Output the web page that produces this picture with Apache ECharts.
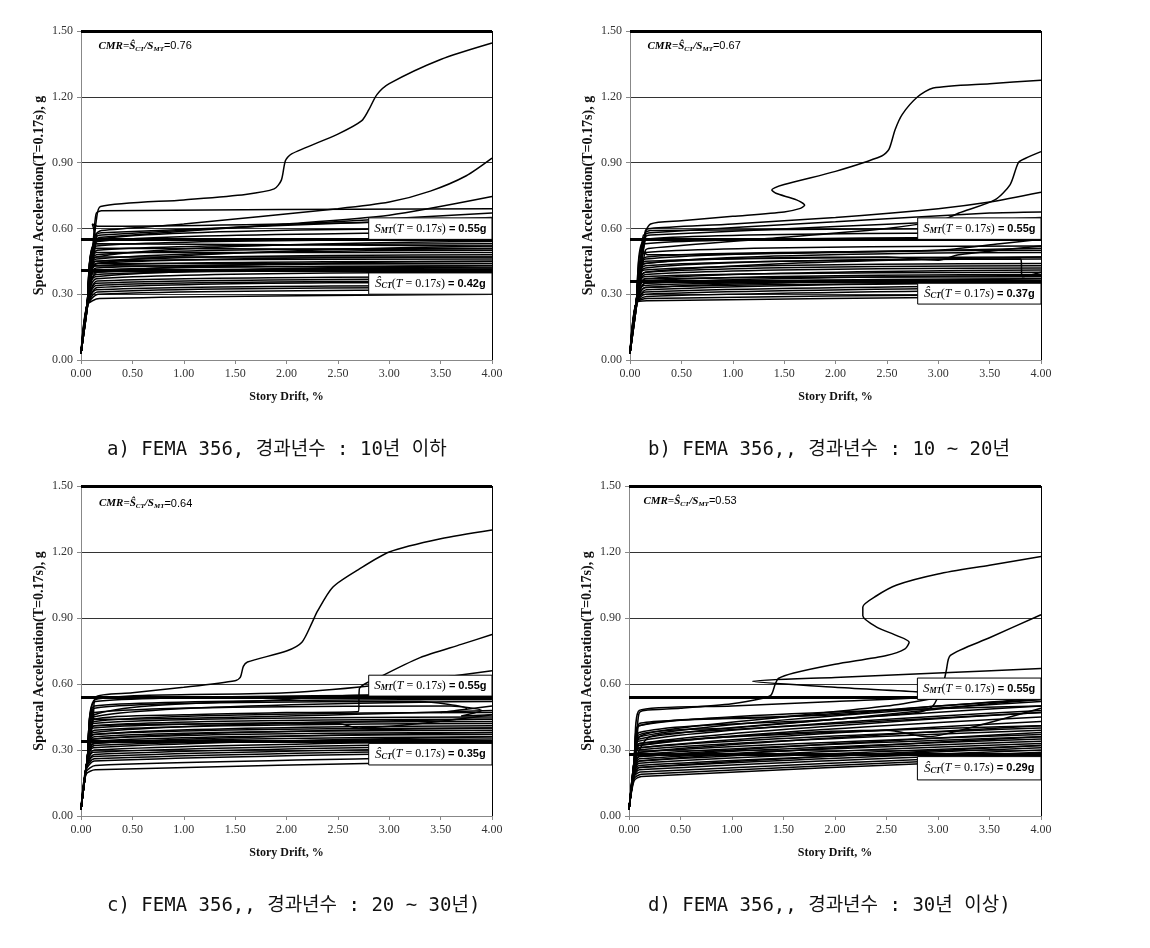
<!DOCTYPE html>
<html><head><meta charset="utf-8">
<script src="https://cdn.jsdelivr.net/npm/echarts@6/dist/echarts.min.js"></script>
<style>html,body{margin:0;padding:0;background:#fff}#c{width:1150px;height:948px}</style>
</head><body><div id="c"></div>
<script>
// ---- data ----
const yTicks = [0, 0.3, 0.6, 0.9, 1.2, 1.5];
const xTicks = [0, 0.5, 1, 1.5, 2, 2.5, 3, 3.5, 4];
const captions = [
  'a) FEMA 356, 경과년수 : 10년 이하',
  'b) FEMA 356,, 경과년수 : 10 ~ 20년',
  'c) FEMA 356,, 경과년수 : 20 ~ 30년)',
  'd) FEMA 356,, 경과년수 : 30년 이상)'
];
const cmrValues = ['0.76', '0.67', '0.64', '0.53'];
const smtValues = ['0.55g', '0.55g', '0.55g', '0.55g'];
const sctValues = ['0.42g', '0.37g', '0.35g', '0.29g'];
const smtLines = [0.545, 0.545, 0.54, 0.54];
const sctLines = [0.405, 0.36, 0.338, 0.277];

// each curve: flat list of drift(%), Sa(g) pairs
const curvesA = [
[0,0.03,0.07,0.27,0.12,0.5,0.15,0.64,0.19,0.70,1.0,0.73,1.6,0.755,1.88,0.78,1.95,0.82,1.99,0.91,2.05,0.94,2.5,1.03,2.73,1.09,2.8,1.14,2.88,1.21,3.0,1.26,3.5,1.37,4,1.445],
[0,0.03,0.07,0.27,0.14,0.57,0.2,0.59,1.0,0.62,2.5,0.69,3.0,0.72,3.4,0.77,3.75,0.84,4,0.92],
[0,0.03,0.07,0.27,0.13,0.6,0.15,0.67,0.2,0.68,4,0.69],
[0,0.03,0.07,0.27,0.15,0.55,0.2,0.56,2.0,0.62,3.0,0.66,4,0.745],
[0,0.03,0.07,0.27,0.15,0.56,0.2,0.57,4,0.67],
[0,0.03,0.07,0.27,0.15,0.57,0.2,0.58,4,0.65],
[0,0.03,0.06,0.26,0.16,0.55,4,0.60],
[0,0.03,0.06,0.26,0.16,0.54,4,0.58],
[0,0.03,0.06,0.26,0.15,0.53,4,0.52],
[0,0.03,0.06,0.26,0.15,0.52,4,0.55],
[0,0.03,0.06,0.26,0.14,0.51,4,0.50],
[0,0.03,0.06,0.26,0.16,0.50,4,0.53],
[0,0.03,0.06,0.25,0.15,0.49,4,0.49],
[0,0.03,0.06,0.25,0.15,0.48,4,0.51],
[0,0.03,0.06,0.25,0.14,0.47,4,0.47],
[0,0.03,0.06,0.25,0.15,0.46,4,0.50],
[0,0.03,0.06,0.25,0.15,0.45,4,0.48],
[0,0.03,0.06,0.25,0.14,0.45,4,0.46],
[0,0.03,0.06,0.25,0.16,0.44,4,0.44],
[0,0.03,0.06,0.25,0.15,0.44,4,0.47],
[0,0.03,0.06,0.25,0.14,0.43,4,0.45],
[0,0.03,0.06,0.25,0.15,0.43,4,0.42],
[0,0.03,0.06,0.25,0.15,0.42,4,0.44],
[0,0.03,0.06,0.25,0.14,0.41,4,0.43],
[0,0.03,0.06,0.25,0.15,0.41,4,0.41],
[0,0.03,0.06,0.25,0.14,0.40,4,0.42],
[0,0.03,0.06,0.25,0.16,0.40,4,0.45],
[0,0.03,0.06,0.25,0.15,0.39,4,0.41],
[0,0.03,0.06,0.25,0.14,0.38,4,0.43],
[0,0.03,0.06,0.25,0.15,0.37,4,0.40],
[0,0.03,0.06,0.25,0.16,0.36,4,0.38],
[0,0.03,0.06,0.25,0.15,0.35,4,0.37],
[0,0.03,0.06,0.25,0.15,0.34,4,0.36],
[0,0.03,0.06,0.25,0.16,0.33,4,0.355],
[0,0.03,0.06,0.25,0.15,0.32,4,0.34],
[0,0.03,0.06,0.25,0.16,0.31,4,0.33],
[0,0.03,0.06,0.25,0.17,0.30,4,0.32],
[0,0.03,0.06,0.25,0.18,0.28,4,0.30],
[0,0.03,0.06,0.25,0.15,0.44,4,0.52],
[0,0.03,0.06,0.25,0.15,0.47,4,0.54],
[0,0.03,0.06,0.25,0.1,0.45,0.13,0.58,0.11,0.62,0.16,0.61,4,0.64]
];
const curvesB = [
[0,0.03,0.07,0.27,0.13,0.55,0.2,0.62,0.5,0.635,1.0,0.655,1.5,0.675,1.65,0.69,1.7,0.705,1.62,0.73,1.42,0.76,1.38,0.775,1.5,0.80,2.0,0.86,2.45,0.93,2.52,0.96,2.58,1.05,2.65,1.12,2.8,1.2,2.95,1.24,3.5,1.26,4,1.275],
[0,0.03,0.07,0.27,0.15,0.5,0.2,0.51,1.5,0.56,2.5,0.6,3.05,0.64,3.2,0.67,3.55,0.73,3.7,0.8,3.78,0.9,3.85,0.92,4,0.95],
[0,0.03,0.07,0.27,0.15,0.59,0.2,0.60,1.0,0.62,2.0,0.65,3.0,0.69,3.5,0.72,4,0.765],
[0,0.03,0.07,0.27,0.15,0.57,0.2,0.58,2.0,0.63,3.5,0.67,4,0.675],
[0,0.03,0.07,0.27,0.15,0.56,0.2,0.57,4,0.65],
[0,0.03,0.06,0.26,0.15,0.58,0.2,0.59,4,0.60],
[0,0.03,0.06,0.26,0.15,0.55,4,0.58],
[0,0.03,0.06,0.26,0.15,0.53,4,0.56],
[0,0.03,0.06,0.26,0.15,0.49,4,0.52],
[0,0.03,0.06,0.26,0.16,0.47,3.0,0.5,3.6,0.53,4,0.55],
[0,0.03,0.06,0.26,0.15,0.46,4,0.50],
[0,0.03,0.06,0.26,0.15,0.45,4,0.47],
[0,0.03,0.06,0.26,0.14,0.44,4,0.49],
[0,0.03,0.06,0.26,0.15,0.43,4,0.46],
[0,0.03,0.06,0.26,0.15,0.42,3.8,0.46,3.82,0.38,4,0.40],
[0,0.03,0.06,0.26,0.14,0.41,4,0.44],
[0,0.03,0.06,0.26,0.15,0.40,4,0.43],
[0,0.03,0.06,0.26,0.15,0.39,4,0.42],
[0,0.03,0.06,0.26,0.14,0.38,4,0.40],
[0,0.03,0.06,0.26,0.15,0.37,4,0.41],
[0,0.03,0.06,0.26,0.15,0.37,4,0.38],
[0,0.03,0.06,0.26,0.14,0.36,4,0.39],
[0,0.03,0.06,0.26,0.15,0.35,4,0.37],
[0,0.03,0.06,0.26,0.15,0.35,4,0.385],
[0,0.03,0.06,0.26,0.14,0.34,4,0.36],
[0,0.03,0.06,0.26,0.15,0.33,4,0.37],
[0,0.03,0.06,0.26,0.15,0.33,4,0.35],
[0,0.03,0.06,0.26,0.16,0.32,4,0.355],
[0,0.03,0.06,0.26,0.15,0.31,4,0.34],
[0,0.03,0.06,0.26,0.15,0.30,4,0.33],
[0,0.03,0.06,0.26,0.16,0.29,4,0.32],
[0,0.03,0.06,0.26,0.17,0.28,4,0.30],
[0,0.03,0.06,0.26,0.17,0.27,4,0.29],
[0,0.03,0.06,0.26,0.15,0.44,2.5,0.47,3.0,0.455,3.2,0.48,4,0.52],
[0,0.03,0.06,0.26,0.1,0.45,0.13,0.57,0.15,0.56,0.13,0.5,0.17,0.48,4,0.51],
[0,0.03,0.06,0.26,0.15,0.40,4,0.47]
];
const curvesC = [
[0,0.03,0.06,0.25,0.12,0.45,0.14,0.54,0.5,0.56,1.0,0.585,1.5,0.615,1.55,0.63,1.58,0.68,1.62,0.70,2.0,0.75,2.15,0.79,2.25,0.88,2.3,0.93,2.45,1.04,2.7,1.12,3.0,1.2,3.5,1.26,4,1.3],
[0,0.03,0.06,0.25,0.13,0.44,1.0,0.46,2.0,0.47,2.7,0.475,2.71,0.58,2.9,0.63,3.3,0.72,3.7,0.78,4,0.825],
[0,0.03,0.06,0.25,0.14,0.53,2.0,0.56,3.0,0.6,4,0.66],
[0,0.03,0.06,0.25,0.14,0.52,4,0.55],
[0,0.03,0.06,0.25,0.13,0.50,4,0.53],
[0,0.03,0.06,0.25,0.13,0.49,3.3,0.52,3.75,0.49,3.5,0.47,4,0.50],
[0,0.03,0.06,0.25,0.13,0.47,3.6,0.50,3.9,0.48,3.7,0.455,4,0.46],
[0,0.03,0.06,0.25,0.12,0.45,4,0.52],
[0,0.03,0.06,0.25,0.13,0.43,4,0.47],
[0,0.03,0.06,0.25,0.12,0.42,4,0.45],
[0,0.03,0.06,0.25,0.13,0.41,4,0.44],
[0,0.03,0.06,0.25,0.12,0.40,4,0.43],
[0,0.03,0.06,0.25,0.13,0.39,4,0.42],
[0,0.03,0.06,0.25,0.12,0.38,4,0.44],
[0,0.03,0.06,0.25,0.13,0.37,4,0.40],
[0,0.03,0.06,0.25,0.12,0.37,4,0.41],
[0,0.03,0.06,0.25,0.13,0.36,4,0.39],
[0,0.03,0.06,0.25,0.12,0.35,4,0.38],
[0,0.03,0.06,0.25,0.13,0.35,4,0.40],
[0,0.03,0.06,0.25,0.12,0.34,4,0.37],
[0,0.03,0.06,0.25,0.13,0.33,4,0.36],
[0,0.03,0.06,0.25,0.12,0.33,4,0.38],
[0,0.03,0.06,0.25,0.13,0.32,4,0.35],
[0,0.03,0.06,0.25,0.12,0.31,4,0.36],
[0,0.03,0.06,0.24,0.13,0.30,4,0.34],
[0,0.03,0.06,0.24,0.12,0.29,4,0.33],
[0,0.03,0.06,0.24,0.13,0.28,4,0.32],
[0,0.03,0.06,0.23,0.12,0.27,4,0.31],
[0,0.03,0.05,0.22,0.13,0.26,4,0.30],
[0,0.03,0.05,0.21,0.13,0.25,4,0.29],
[0,0.03,0.05,0.20,0.14,0.23,4,0.27],
[0,0.03,0.05,0.19,0.14,0.21,4,0.25],
[0,0.03,0.06,0.25,0.1,0.4,0.12,0.48,0.1,0.46,0.14,0.44,4,0.48],
[0,0.03,0.06,0.25,0.13,0.46,2.0,0.53,2.8,0.55,3.5,0.545,4,0.55],
[0,0.03,0.06,0.25,0.13,0.41,2.5,0.42,2.7,0.40,3.3,0.42,4,0.46]
];
const curvesD = [
[0,0.03,0.05,0.25,0.08,0.40,0.1,0.47,0.15,0.48,0.5,0.49,1.0,0.51,1.3,0.535,1.38,0.55,1.42,0.6,1.45,0.625,1.6,0.65,2.0,0.69,2.5,0.73,2.68,0.76,2.72,0.79,2.6,0.82,2.4,0.86,2.27,0.91,2.27,0.95,2.4,1.0,2.6,1.05,3.0,1.1,3.5,1.14,4,1.18],
[0,0.03,0.05,0.25,0.1,0.36,0.5,0.40,1.5,0.45,2.5,0.50,2.9,0.53,3.1,0.55,2.0,0.585,1.2,0.612,2.0,0.63,3.0,0.65,4,0.67],
[0,0.03,0.05,0.25,0.1,0.37,1.0,0.40,2.0,0.44,2.8,0.47,2.95,0.5,3.05,0.6,3.08,0.66,3.12,0.73,3.5,0.81,4,0.915],
[0,0.03,0.05,0.25,0.1,0.48,1.0,0.50,2.0,0.52,3.0,0.54,4,0.545],
[0,0.03,0.05,0.25,0.1,0.41,2,0.46,3,0.5,4,0.53],
[0,0.03,0.05,0.25,0.09,0.41,4,0.50],
[0,0.03,0.05,0.25,0.1,0.38,2.0,0.44,3.5,0.51,4,0.53],
[0,0.03,0.05,0.22,0.1,0.36,4,0.52],
[0,0.03,0.05,0.22,0.1,0.35,4,0.50],
[0,0.03,0.05,0.22,0.09,0.34,4,0.48],
[0,0.03,0.05,0.22,0.1,0.33,4,0.47],
[0,0.03,0.05,0.22,0.1,0.33,4,0.41],
[0,0.03,0.05,0.22,0.09,0.32,4,0.45],
[0,0.03,0.05,0.22,0.1,0.31,4,0.40],
[0,0.03,0.05,0.22,0.1,0.31,4,0.43],
[0,0.03,0.05,0.22,0.09,0.30,4,0.39],
[0,0.03,0.05,0.22,0.1,0.29,4,0.37],
[0,0.03,0.05,0.22,0.1,0.29,4,0.41],
[0,0.03,0.05,0.22,0.09,0.28,4,0.36],
[0,0.03,0.05,0.22,0.1,0.27,4,0.35],
[0,0.03,0.05,0.22,0.1,0.27,4,0.38],
[0,0.03,0.05,0.20,0.1,0.26,4,0.34],
[0,0.03,0.05,0.20,0.1,0.25,4,0.33],
[0,0.03,0.05,0.20,0.1,0.25,4,0.36],
[0,0.03,0.05,0.20,0.1,0.24,4,0.32],
[0,0.03,0.05,0.20,0.1,0.23,4,0.31],
[0,0.03,0.05,0.19,0.1,0.22,4,0.30],
[0,0.03,0.05,0.19,0.1,0.22,4,0.32],
[0,0.03,0.05,0.18,0.1,0.21,4,0.29],
[0,0.03,0.05,0.18,0.11,0.20,4,0.28],
[0,0.03,0.05,0.17,0.12,0.19,4,0.27],
[0,0.03,0.05,0.16,0.12,0.18,4,0.26],
[0,0.03,0.05,0.22,0.1,0.3,0.2,0.36,0.5,0.38,4,0.47],
[0,0.03,0.05,0.22,0.1,0.32,2.5,0.39,2.9,0.36,3.3,0.4,4,0.49],
[0,0.03,0.05,0.22,0.08,0.35,0.1,0.42,1.5,0.45,3.0,0.5,3.8,0.53,4,0.55]
];
const allCurves = [curvesA, curvesB, curvesC, curvesD];

// ---- layout (positions, not data) ----
const grids = [
  {left: 81, top: 31, width: 411, height: 329},
  {left: 630, top: 31, width: 411, height: 329},
  {left: 81, top: 486, width: 411, height: 330},
  {left: 629, top: 486, width: 412, height: 330}
];
const mtBoxes = [[2.8,0.648,4,0.55],[2.8,0.648,4,0.55],[2.8,0.64,4,0.545],[2.8,0.627,4,0.53]];
const ctBoxes = [[2.8,0.397,4,0.30],[2.8,0.35,4,0.255],[2.8,0.33,4,0.232],[2.8,0.27,4,0.164]];
const cmrPos = [[0.17,1.43],[0.17,1.43],[0.175,1.42],[0.14,1.43]];
const captionPos = [[107,436],[648,436],[107,892],[648,892]];

const serif = 'Liberation Serif';
const boxRich = {
  s: {fontFamily: serif, fontStyle: 'italic', fontSize: 13, color: '#000', verticalAlign: 'middle'},
  sub: {fontFamily: serif, fontStyle: 'italic', fontWeight: 'bold', fontSize: 8, color: '#000', verticalAlign: 'bottom', lineHeight: 13},
  p: {fontFamily: serif, fontSize: 12, color: '#000'},
  i: {fontFamily: serif, fontStyle: 'italic', fontSize: 12, color: '#000'},
  b: {fontFamily: 'Liberation Sans', fontWeight: 'bold', fontSize: 11, color: '#000'}
};
const cmrRich = {
  a: {fontFamily: serif, fontStyle: 'italic', fontWeight: 'bold', fontSize: 11, color: '#000'},
  s: {fontFamily: serif, fontStyle: 'italic', fontWeight: 'bold', fontSize: 11, color: '#000'},
  sub: {fontFamily: serif, fontStyle: 'italic', fontWeight: 'bold', fontSize: 7, color: '#000', verticalAlign: 'bottom', lineHeight: 12},
  n: {fontFamily: 'Liberation Sans', fontSize: 11, color: '#000'}
};

const option = {
  animation: false,
  backgroundColor: '#fff',
  title: captions.map((t, i) => ({
    text: t, left: captionPos[i][0], top: captionPos[i][1], padding: [5, 0, 0, 0],
    textStyle: {fontFamily: "'DejaVu Sans Mono', 'Noto Sans CJK KR'", fontSize: 19, fontWeight: 'normal', color: '#111'}
  })),
  grid: grids.map(g => Object.assign({containLabel: false}, g)),
  xAxis: grids.map((g, i) => ({
    type: 'value', gridIndex: i, min: xTicks[0], max: xTicks[xTicks.length - 1], interval: xTicks[1] - xTicks[0],
    name: 'Story Drift, %', nameLocation: 'middle', nameGap: 31,
    nameTextStyle: {fontFamily: serif, fontWeight: 'bold', fontSize: 12, color: '#111'},
    axisLine: {show: true, onZero: false, lineStyle: {color: '#888', width: 1}},
    axisTick: {show: true, length: 4, lineStyle: {color: '#888'}},
    axisLabel: {fontFamily: serif, fontSize: 12, color: '#333', margin: 8, formatter: v => v.toFixed(2)},
    splitLine: {show: false}
  })),
  yAxis: grids.map((g, i) => ({
    type: 'value', gridIndex: i, min: yTicks[0], max: yTicks[yTicks.length - 1], interval: yTicks[1] - yTicks[0],
    name: 'Spectral Acceleration(T=0.17s), g', nameLocation: 'middle', nameGap: 35,
    nameTextStyle: {fontFamily: serif, fontWeight: 'bold', fontSize: 14, color: '#111'},
    axisLine: {show: true, lineStyle: {color: '#888', width: 1}},
    axisTick: {show: true, length: 4, lineStyle: {color: '#888'}},
    axisLabel: {fontFamily: serif, fontSize: 12, color: '#333', margin: 8, formatter: v => v.toFixed(2)},
    splitLine: {show: true, lineStyle: {color: '#333', width: 1}}
  })),
  series: []
};

allCurves.forEach((curves, p) => {
  curves.forEach((flat, k) => {
    const pts = [];
    for (let j = 0; j < flat.length; j += 2) pts.push([flat[j], flat[j + 1]]);
    option.series.push({
      type: 'line', xAxisIndex: p, yAxisIndex: p, data: pts,
      symbol: 'none', smooth: 0.25, silent: true, z: 2,
      lineStyle: {color: '#000', width: 1.5}
    });
  });
  const mb = mtBoxes[p], cb = ctBoxes[p];
  option.series.push({
    type: 'line', xAxisIndex: p, yAxisIndex: p, data: [], silent: true, z: 10,
    markLine: {
      silent: true, symbol: 'none', animation: false, z: 10,
      label: {show: false},
      data: [
        {yAxis: smtLines[p], lineStyle: {color: '#000', width: 3, type: 'solid'}},
        {yAxis: sctLines[p], lineStyle: {color: '#000', width: 3, type: 'solid'}},
        {yAxis: yTicks[yTicks.length - 1], lineStyle: {color: '#000', width: 3, type: 'solid'}},
        {xAxis: xTicks[xTicks.length - 1], lineStyle: {color: '#000', width: 1, type: 'solid'}}
      ]
    },
    markArea: {
      silent: true, z: 12,
      itemStyle: {color: '#fff', borderColor: '#000', borderWidth: 1, opacity: 1},
      label: {show: true, position: 'inside', rich: boxRich},
      data: [
        [{coord: [mb[0], mb[1]], label: {formatter: '{s|S}{sub|MT}{p|(}{i|T}{p| = 0.17}{i|s}{p|)}{b| = ' + smtValues[p] + '}'}}, {coord: [mb[2], mb[3]]}],
        [{coord: [cb[0], cb[1]], label: {formatter: '{s|Ŝ}{sub|CT}{p|(}{i|T}{p| = 0.17}{i|s}{p|)}{b| = ' + sctValues[p] + '}'}}, {coord: [cb[2], cb[3]]}]
      ]
    },
    markPoint: {
      silent: true, symbol: 'rect', symbolSize: 0,
      label: {show: true, position: 'right', distance: 0, rich: cmrRich,
        formatter: '{a|CMR=}{s|Ŝ}{sub|CT}{a|/}{s|S}{sub|MT}{n|=' + cmrValues[p] + '}'},
      data: [{coord: cmrPos[p]}]
    }
  });
});

const chart = echarts.init(document.getElementById('c'), null, {renderer: 'canvas'});
chart.setOption(option);
</script>
</body></html>
